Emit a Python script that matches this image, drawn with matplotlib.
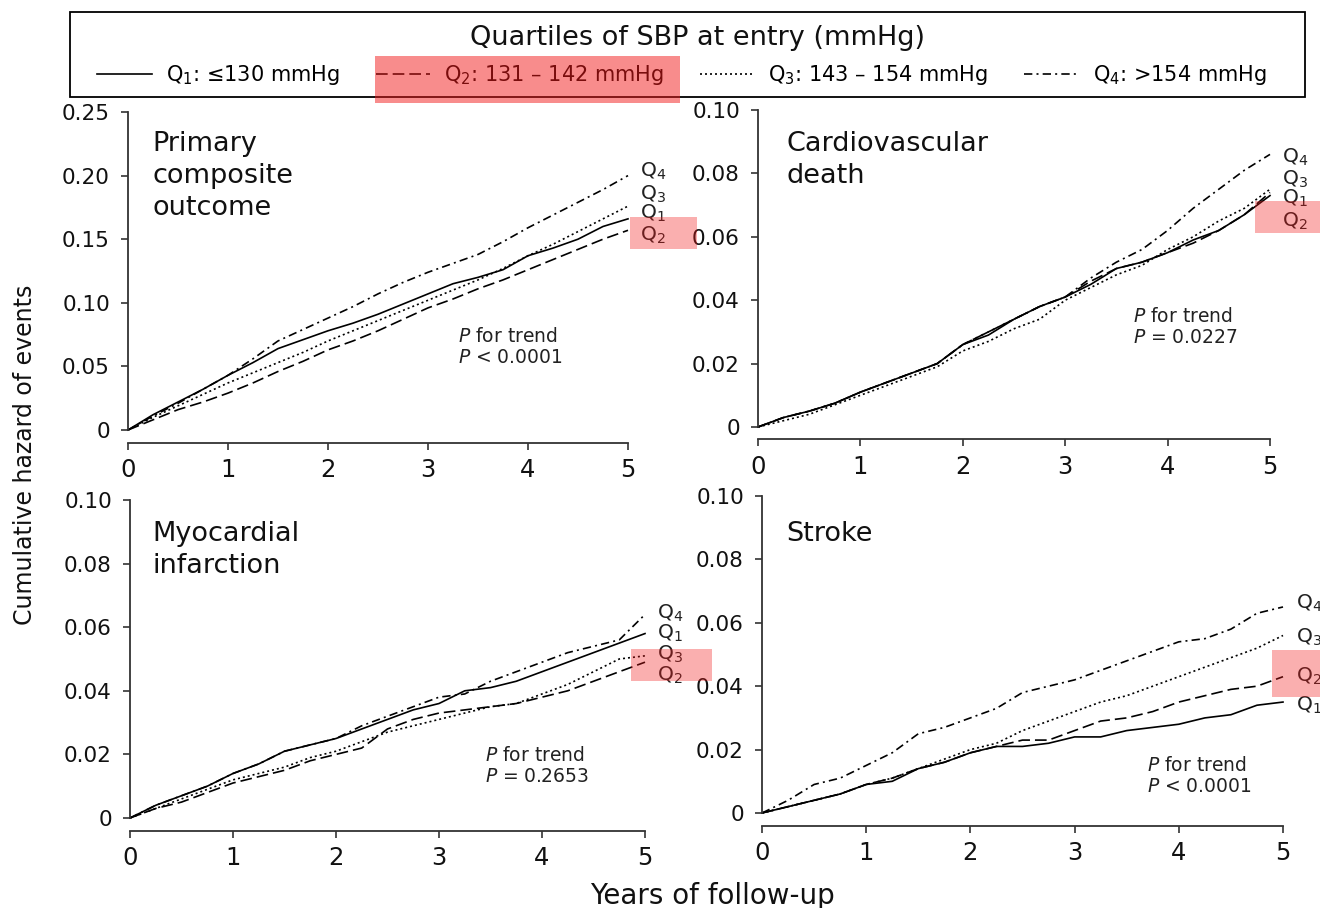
import matplotlib
matplotlib.use("Agg")
import matplotlib.pyplot as plt
from matplotlib.patches import Rectangle

plt.rcParams['font.family'] = ['DejaVu Sans']
plt.rcParams['mathtext.fontset'] = 'dejavusans'

W, H = 1320, 908

# ---------------- data ----------------
years = [0, 0.25, 0.5, 0.75, 1.0, 1.25, 1.5, 1.75, 2.0, 2.25, 2.5, 2.75,
         3.0, 3.25, 3.5, 3.75, 4.0, 4.25, 4.5, 4.75, 5.0]

quartile_labels = ["Q$_1$: \u2264130 mmHg", "Q$_2$: 131 \u2013 142 mmHg",
                   "Q$_3$: 143 \u2013 154 mmHg", "Q$_4$: >154 mmHg"]
quartile_short = ["Q$_1$", "Q$_2$", "Q$_3$", "Q$_4$"]
legend_title = "Quartiles of SBP at entry (mmHg)"

# Primary composite outcome
pc_q1 = [0, .012, .022, .032, .043, .053, .064, .071, .078, .084, .091, .099,
         .107, .115, .120, .126, .137, .143, .150, .160, .166]
pc_q2 = [0, .008, .016, .022, .029, .037, .046, .054, .063, .070, .078, .087,
         .096, .103, .111, .118, .126, .134, .142, .150, .157]
pc_q3 = [0, .010, .019, .028, .037, .045, .053, .061, .070, .078, .086, .094,
         .102, .110, .118, .127, .137, .146, .156, .166, .176]
pc_q4 = [0, .011, .021, .032, .043, .056, .070, .079, .088, .097, .107, .116,
         .124, .131, .138, .148, .159, .169, .179, .189, .200]

# Cardiovascular death
cv_q1 = [0, .003, .005, .0075, .011, .014, .017, .020, .026, .029, .034, .038,
         .041, .045, .050, .052, .055, .059, .062, .067, .073]
cv_q2 = [0, .003, .005, .0075, .011, .014, .017, .020, .026, .030, .034, .038,
         .041, .046, .050, .052, .055, .058, .062, .067, .074]
cv_q3 = [0, .002, .004, .007, .010, .013, .016, .019, .024, .027, .031, .034,
         .040, .044, .048, .051, .056, .060, .065, .069, .075]
cv_q4 = [0, .003, .005, .0075, .011, .014, .017, .020, .026, .030, .034, .038,
         .041, .047, .052, .056, .062, .069, .075, .081, .086]

# Myocardial infarction
mi_q1 = [0, .004, .007, .010, .014, .017, .021, .023, .025, .028, .031, .034,
         .036, .040, .041, .043, .046, .049, .052, .055, .058]
mi_q2 = [0, .003, .005, .008, .011, .013, .015, .018, .020, .022, .028, .031,
         .033, .034, .035, .036, .038, .040, .043, .046, .049]
mi_q3 = [0, .003, .006, .009, .012, .014, .016, .019, .021, .024, .027, .029,
         .031, .033, .035, .036, .039, .042, .046, .050, .051]
mi_q4 = [0, .004, .007, .010, .014, .017, .021, .023, .025, .029, .032, .035,
         .038, .039, .043, .046, .049, .052, .054, .056, .064]

# Stroke
st_q1 = [0, .002, .004, .006, .009, .010, .014, .016, .019, .021, .021, .022,
         .024, .024, .026, .027, .028, .030, .031, .034, .035]
st_q2 = [0, .002, .004, .006, .009, .011, .014, .016, .019, .021, .023, .023,
         .026, .029, .030, .032, .035, .037, .039, .040, .043]
st_q3 = [0, .002, .004, .006, .009, .011, .014, .017, .020, .022, .026, .029,
         .032, .035, .037, .040, .043, .046, .049, .052, .056]
st_q4 = [0, .004, .009, .011, .015, .019, .025, .027, .030, .033, .038, .040,
         .042, .045, .048, .051, .054, .055, .058, .063, .065]

panel_titles = ["Primary\ncomposite\noutcome", "Cardiovascular\ndeath",
                "Myocardial\ninfarction", "Stroke"]
p_texts = ["P < 0.0001", "P = 0.0227", "P = 0.2653", "P < 0.0001"]
ymaxes = [0.25, 0.10, 0.10, 0.10]
yticks_list = [[0, 0.05, 0.10, 0.15, 0.20, 0.25],
               [0, 0.02, 0.04, 0.06, 0.08, 0.10],
               [0, 0.02, 0.04, 0.06, 0.08, 0.10],
               [0, 0.02, 0.04, 0.06, 0.08, 0.10]]
ytick_labels = [["0", "0.05", "0.10", "0.15", "0.20", "0.25"],
                ["0", "0.02", "0.04", "0.06", "0.08", "0.10"],
                ["0", "0.02", "0.04", "0.06", "0.08", "0.10"],
                ["0", "0.02", "0.04", "0.06", "0.08", "0.10"]]
xticks = [0, 1, 2, 3, 4, 5]
panel_data = [[pc_q1, pc_q2, pc_q3, pc_q4],
              [cv_q1, cv_q2, cv_q3, cv_q4],
              [mi_q1, mi_q2, mi_q3, mi_q4],
              [st_q1, st_q2, st_q3, st_q4]]
# end-label heights (order Q1..Q4)
label_y = [[0.1706, 0.153, 0.1855, 0.203],
           [0.072, 0.065, 0.078, 0.085],
           [0.058, 0.045, 0.0515, 0.0645],
           [0.034, 0.043, 0.0555, 0.066]]

# ---------------- layout ----------------
def box(l, r, b, t):
    return [l / W, 1 - b / H, (r - l) / W, (b - t) / H]

axes_boxes = [box(128, 628, 430, 112), box(758, 1270, 427, 110),
              box(130, 645, 818, 500), box(762, 1283, 813, 496)]
title_pos = [(0.048, 0.94), (0.055, 0.933), (0.043, 0.933), (0.046, 0.92)]
p_pos = [(0.66, 0.325), (0.732, 0.38), (0.689, 0.227), (0.739, 0.181)]

styles = [dict(linestyle='-'),
          dict(linestyle=(0, (7, 3))),
          dict(linestyle=(0, (1.2, 1.8))),
          dict(linestyle=(0, (5, 2.5, 1.2, 2.5)))]

fig = plt.figure(figsize=(W / 100, H / 100), dpi=100)
spine_col = '#333333'
handles = None
for i in range(4):
    ax = fig.add_axes(axes_boxes[i])
    lines = []
    for q in range(4):
        ln, = ax.plot(years, panel_data[i][q], color='black', lw=1.2,
                      clip_on=False, **styles[q])
        lines.append(ln)
        ax.text(5.12, label_y[i][q], quartile_short[q], fontsize=14.5,
                ha='left', va='center', color='#222222', clip_on=False)
    if handles is None:
        handles = lines
    ax.set_xlim(0, 5)
    ax.set_ylim(0, ymaxes[i])
    ax.set_xticks(xticks)
    ax.set_xticklabels([str(v) for v in xticks])
    ax.set_yticks(yticks_list[i])
    ax.set_yticklabels(ytick_labels[i])
    for s in ['top', 'right']:
        ax.spines[s].set_visible(False)
    ax.spines['bottom'].set_position(('outward', 9))
    for s in ['left', 'bottom']:
        ax.spines[s].set_color(spine_col)
        ax.spines[s].set_linewidth(1.3)
    ax.tick_params(axis='x', labelsize=17.5, length=5, width=1.2,
                   color=spine_col, pad=6, labelcolor='#111111')
    ax.tick_params(axis='y', labelsize=15.5, length=5, width=1.2,
                   color=spine_col, pad=8, labelcolor='#111111')
    ax.patch.set_alpha(0)
    ax.text(title_pos[i][0], title_pos[i][1], panel_titles[i],
            transform=ax.transAxes, fontsize=19.5, ha='left', va='top',
            linespacing=1.3, color='#111111')
    ptxt = p_texts[i].replace("P", "$\\it{P}$")
    ax.text(p_pos[i][0], p_pos[i][1], "$\\it{P}$ for trend\n" + ptxt,
            transform=ax.transAxes, fontsize=13.5, ha='left', va='top',
            linespacing=1.15, color='#222222')

fig.text(25 / W, 1 - 455 / H, "Cumulative hazard of events", rotation=90,
         fontsize=17, ha='center', va='center', color='#111111')
fig.text(712 / W, 1 - 896 / H, "Years of follow-up", fontsize=20,
         ha='center', va='center', color='#111111')

# legend: frame + title + entries
fig.add_artist(Rectangle((70 / W, 1 - 97 / H), 1235 / W, 85 / H,
                         transform=fig.transFigure, facecolor='none',
                         edgecolor='black', lw=1.3, zorder=5))
fig.text(697 / W, 1 - 38 / H, legend_title, fontsize=19.5,
         ha='center', va='center', color='#111111')
leg = fig.legend(handles, quartile_labels, ncol=4, loc='center',
                 bbox_to_anchor=(682 / W, 1 - 75 / H), borderaxespad=0,
                 fontsize=15, frameon=False, handlelength=2.6,
                 handletextpad=0.7, columnspacing=1.7, borderpad=0)

# highlight boxes
hl = [((375, 56, 680, 103), 0.5),
      ((630, 217, 697, 249), 0.35),
      ((1255, 201, 1320, 233), 0.35),
      ((631, 649, 712, 681), 0.35),
      ((1272, 650, 1320, 697), 0.35)]
for (x0, y0, x1, y1), a in hl:
    fig.add_artist(Rectangle((x0 / W, 1 - y1 / H), (x1 - x0) / W,
                             (y1 - y0) / H, transform=fig.transFigure,
                             facecolor=(0.95, 0.1, 0.1), alpha=a,
                             edgecolor='none', zorder=20))

fig.savefig("out.png", dpi=100)
